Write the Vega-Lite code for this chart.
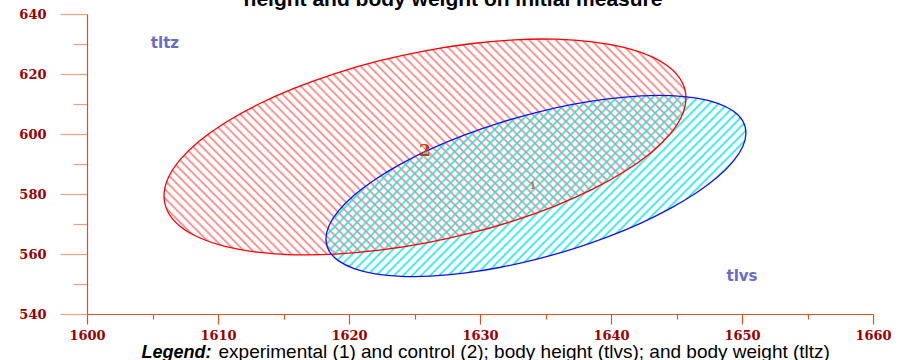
{
"$schema": "https://vega.github.io/schema/vega-lite/v6.json",
"width": 786, "height": 300,
"autosize": {"type": "none"},
"padding": {"left": 87, "top": 14, "right": 27, "bottom": 46},
"background": "white",
"config": {"view": {"stroke": null}},
"title": {"text": "height and body weight on initial measure", "font": "Liberation Sans", "fontSize": 21, "fontWeight": "bold", "color": "#000000", "anchor": "middle", "frame": "group", "baseline": "alphabetic", "offset": -6, "dx": -27, "dy": 13},
"datasets": {
"red": [
{"g":"2","i":0,"x":1645.72,"y":612.00},{"g":"2","i":1,"x":1645.42,"y":617.32},{"g":"2","i":2,"x":1644.52,"y":621.99},{"g":"2","i":3,"x":1643.05,"y":625.85},{"g":"2","i":4,"x":1641.06,"y":628.79},{"g":"2","i":5,"x":1638.60,"y":630.74},{"g":"2","i":6,"x":1635.76,"y":631.61},{"g":"2","i":7,"x":1632.61,"y":631.39},{"g":"2","i":8,"x":1629.26,"y":630.08},{"g":"2","i":9,"x":1625.80,"y":627.74},{"g":"2","i":10,"x":1622.34,"y":624.42},{"g":"2","i":11,"x":1618.99,"y":620.23},{"g":"2","i":12,"x":1615.84,"y":615.27},{"g":"2","i":13,"x":1613.00,"y":609.74},{"g":"2","i":14,"x":1610.54,"y":603.77},{"g":"2","i":15,"x":1608.55,"y":597.57},{"g":"2","i":16,"x":1607.08,"y":591.29},{"g":"2","i":17,"x":1606.18,"y":585.16},{"g":"2","i":18,"x":1605.88,"y":579.34},{"g":"2","i":19,"x":1606.18,"y":574.02},{"g":"2","i":20,"x":1607.08,"y":569.35},{"g":"2","i":21,"x":1608.55,"y":565.49},{"g":"2","i":22,"x":1610.54,"y":562.55},{"g":"2","i":23,"x":1613.00,"y":560.60},{"g":"2","i":24,"x":1615.84,"y":559.73},{"g":"2","i":25,"x":1618.99,"y":559.95},{"g":"2","i":26,"x":1622.34,"y":561.26},{"g":"2","i":27,"x":1625.80,"y":563.60},{"g":"2","i":28,"x":1629.26,"y":566.92},{"g":"2","i":29,"x":1632.61,"y":571.11},{"g":"2","i":30,"x":1635.76,"y":576.07},{"g":"2","i":31,"x":1638.60,"y":581.60},{"g":"2","i":32,"x":1641.06,"y":587.57},{"g":"2","i":33,"x":1643.05,"y":593.77},{"g":"2","i":34,"x":1644.52,"y":600.05},{"g":"2","i":35,"x":1645.42,"y":606.18}
],
"blue": [
{"g":"1","i":0,"x":1650.30,"y":600.34},{"g":"1","i":1,"x":1650.06,"y":604.32},{"g":"1","i":2,"x":1649.33,"y":607.64},{"g":"1","i":3,"x":1648.15,"y":610.21},{"g":"1","i":4,"x":1646.55,"y":611.94},{"g":"1","i":5,"x":1644.57,"y":612.77},{"g":"1","i":6,"x":1642.29,"y":612.70},{"g":"1","i":7,"x":1639.75,"y":611.70},{"g":"1","i":8,"x":1637.05,"y":609.84},{"g":"1","i":9,"x":1634.27,"y":607.14},{"g":"1","i":10,"x":1631.49,"y":603.70},{"g":"1","i":11,"x":1628.79,"y":599.62},{"g":"1","i":12,"x":1626.25,"y":595.02},{"g":"1","i":13,"x":1623.97,"y":590.05},{"g":"1","i":14,"x":1621.99,"y":584.86},{"g":"1","i":15,"x":1620.39,"y":579.61},{"g":"1","i":16,"x":1619.21,"y":574.44},{"g":"1","i":17,"x":1618.48,"y":569.52},{"g":"1","i":18,"x":1618.24,"y":565.00},{"g":"1","i":19,"x":1618.48,"y":561.02},{"g":"1","i":20,"x":1619.21,"y":557.70},{"g":"1","i":21,"x":1620.39,"y":555.13},{"g":"1","i":22,"x":1621.99,"y":553.40},{"g":"1","i":23,"x":1623.97,"y":552.57},{"g":"1","i":24,"x":1626.25,"y":552.64},{"g":"1","i":25,"x":1628.79,"y":553.64},{"g":"1","i":26,"x":1631.49,"y":555.50},{"g":"1","i":27,"x":1634.27,"y":558.20},{"g":"1","i":28,"x":1637.05,"y":561.64},{"g":"1","i":29,"x":1639.75,"y":565.72},{"g":"1","i":30,"x":1642.29,"y":570.32},{"g":"1","i":31,"x":1644.57,"y":575.29},{"g":"1","i":32,"x":1646.55,"y":580.48},{"g":"1","i":33,"x":1648.15,"y":585.73},{"g":"1","i":34,"x":1649.33,"y":590.90},{"g":"1","i":35,"x":1650.06,"y":595.82}
],
"names": [{"x":1605.95,"y":630.3,"label":"tltz"},{"x":1650.0,"y":552.7,"label":"tlvs"}],
"centers": [{"x":1634.05,"y":582.67,"label":"1"},{"x":1625.8,"y":594.33,"label":"2"}]
},
"encoding": {
"x": {"field": "x", "type": "quantitative",
 "scale": {"domain": [1600, 1660], "nice": false, "zero": false},
 "axis": {"values": [1600,1605,1610,1615,1620,1625,1630,1635,1640,1645,1650,1655,1660], "format": "d",
  "grid": false, "domainColor": "#d9531e", "domainWidth": 1.2, "tickColor": "#d9531e", "tickWidth": 1.2,
  "tickSize": {"condition": {"test": "datum.value % 10 === 0", "value": 10}, "value": 5},
  "labelExpr": "datum.value % 10 === 0 ? datum.label : ''",
  "labelFont": "DejaVu Serif", "labelFontWeight": "bold", "labelFontSize": 13, "labelColor": "#990000",
  "labelPadding": 5, "labelFlush": false, "labelOverlap": false,
  "title": "experimental (1) and control (2); body height (tlvs); and body weight (tltz)",
  "titleX": 131, "titleY": 43, "titleAlign": "left", "titleAnchor": "start", "titleBaseline": "alphabetic",
  "titleFont": "Liberation Sans", "titleFontSize": 19, "titleFontWeight": "normal", "titleColor": "#000000"}},
"y": {"field": "y", "type": "quantitative",
 "scale": {"domain": [540, 640], "nice": false, "zero": false},
 "axis": {"values": [540,550,560,570,580,590,600,610,620,630,640], "format": "d",
  "grid": false, "domainColor": "#d9531e", "domainWidth": 1.2, "tickColor": "#f0a080", "tickWidth": 1.2,
  "tickSize": {"condition": {"test": "datum.value % 20 === 0", "value": 27}, "value": 14},
  "labelExpr": "datum.value % 20 === 0 ? datum.label : ''",
  "labelFont": "DejaVu Serif", "labelFontWeight": "bold", "labelFontSize": 13, "labelColor": "#990000",
  "labelPadding": 14, "labelFlush": false, "labelOverlap": false,
  "title": "Legend:", "titleAngle": 0, "titleX": 54, "titleY": 343, "titleAlign": "left", "titleAnchor": "start", "titleBaseline": "alphabetic",
  "titleFont": "Liberation Sans", "titleFontSize": 18, "titleFontWeight": "bold", "titleFontStyle": "italic", "titleColor": "#000000"}}
},
"layer": [
{"data": {"name": "red"},
 "mark": {"type": "line", "interpolate": "cardinal-closed", "strokeOpacity": 0, "fill": {"gradient": "linear", "x1": 0, "y1": 1, "x2": 1.2071, "y2": 0.5015, "stops": [
{"offset":0.003,"color":"#ff7a7a00"},{"offset":0.006,"color":"#ff7a7a"},{"offset":0.009,"color":"#ff7a7a00"},
{"offset":0.015,"color":"#ff7a7a00"},{"offset":0.018,"color":"#ff7a7a"},{"offset":0.021,"color":"#ff7a7a00"},
{"offset":0.027,"color":"#ff7a7a00"},{"offset":0.03,"color":"#ff7a7a"},{"offset":0.033,"color":"#ff7a7a00"},
{"offset":0.039,"color":"#ff7a7a00"},{"offset":0.042,"color":"#ff7a7a"},{"offset":0.045,"color":"#ff7a7a00"},
{"offset":0.051,"color":"#ff7a7a00"},{"offset":0.054,"color":"#ff7a7a"},{"offset":0.057,"color":"#ff7a7a00"},
{"offset":0.063,"color":"#ff7a7a00"},{"offset":0.066,"color":"#ff7a7a"},{"offset":0.069,"color":"#ff7a7a00"},
{"offset":0.075,"color":"#ff7a7a00"},{"offset":0.078,"color":"#ff7a7a"},{"offset":0.081,"color":"#ff7a7a00"},
{"offset":0.087,"color":"#ff7a7a00"},{"offset":0.09,"color":"#ff7a7a"},{"offset":0.093,"color":"#ff7a7a00"},
{"offset":0.099,"color":"#ff7a7a00"},{"offset":0.102,"color":"#ff7a7a"},{"offset":0.105,"color":"#ff7a7a00"},
{"offset":0.111,"color":"#ff7a7a00"},{"offset":0.114,"color":"#ff7a7a"},{"offset":0.117,"color":"#ff7a7a00"},
{"offset":0.123,"color":"#ff7a7a00"},{"offset":0.126,"color":"#ff7a7a"},{"offset":0.129,"color":"#ff7a7a00"},
{"offset":0.135,"color":"#ff7a7a00"},{"offset":0.138,"color":"#ff7a7a"},{"offset":0.141,"color":"#ff7a7a00"},
{"offset":0.147,"color":"#ff7a7a00"},{"offset":0.15,"color":"#ff7a7a"},{"offset":0.153,"color":"#ff7a7a00"},
{"offset":0.159,"color":"#ff7a7a00"},{"offset":0.162,"color":"#ff7a7a"},{"offset":0.165,"color":"#ff7a7a00"},
{"offset":0.171,"color":"#ff7a7a00"},{"offset":0.174,"color":"#ff7a7a"},{"offset":0.177,"color":"#ff7a7a00"},
{"offset":0.183,"color":"#ff7a7a00"},{"offset":0.186,"color":"#ff7a7a"},{"offset":0.189,"color":"#ff7a7a00"},
{"offset":0.195,"color":"#ff7a7a00"},{"offset":0.198,"color":"#ff7a7a"},{"offset":0.201,"color":"#ff7a7a00"},
{"offset":0.207,"color":"#ff7a7a00"},{"offset":0.21,"color":"#ff7a7a"},{"offset":0.213,"color":"#ff7a7a00"},
{"offset":0.219,"color":"#ff7a7a00"},{"offset":0.222,"color":"#ff7a7a"},{"offset":0.225,"color":"#ff7a7a00"},
{"offset":0.231,"color":"#ff7a7a00"},{"offset":0.234,"color":"#ff7a7a"},{"offset":0.237,"color":"#ff7a7a00"},
{"offset":0.243,"color":"#ff7a7a00"},{"offset":0.246,"color":"#ff7a7a"},{"offset":0.249,"color":"#ff7a7a00"},
{"offset":0.255,"color":"#ff7a7a00"},{"offset":0.258,"color":"#ff7a7a"},{"offset":0.261,"color":"#ff7a7a00"},
{"offset":0.267,"color":"#ff7a7a00"},{"offset":0.27,"color":"#ff7a7a"},{"offset":0.273,"color":"#ff7a7a00"},
{"offset":0.279,"color":"#ff7a7a00"},{"offset":0.282,"color":"#ff7a7a"},{"offset":0.285,"color":"#ff7a7a00"},
{"offset":0.291,"color":"#ff7a7a00"},{"offset":0.294,"color":"#ff7a7a"},{"offset":0.297,"color":"#ff7a7a00"},
{"offset":0.303,"color":"#ff7a7a00"},{"offset":0.306,"color":"#ff7a7a"},{"offset":0.309,"color":"#ff7a7a00"},
{"offset":0.315,"color":"#ff7a7a00"},{"offset":0.318,"color":"#ff7a7a"},{"offset":0.321,"color":"#ff7a7a00"},
{"offset":0.327,"color":"#ff7a7a00"},{"offset":0.33,"color":"#ff7a7a"},{"offset":0.333,"color":"#ff7a7a00"},
{"offset":0.339,"color":"#ff7a7a00"},{"offset":0.342,"color":"#ff7a7a"},{"offset":0.345,"color":"#ff7a7a00"},
{"offset":0.351,"color":"#ff7a7a00"},{"offset":0.354,"color":"#ff7a7a"},{"offset":0.357,"color":"#ff7a7a00"},
{"offset":0.363,"color":"#ff7a7a00"},{"offset":0.366,"color":"#ff7a7a"},{"offset":0.369,"color":"#ff7a7a00"},
{"offset":0.375,"color":"#ff7a7a00"},{"offset":0.378,"color":"#ff7a7a"},{"offset":0.381,"color":"#ff7a7a00"},
{"offset":0.387,"color":"#ff7a7a00"},{"offset":0.39,"color":"#ff7a7a"},{"offset":0.393,"color":"#ff7a7a00"},
{"offset":0.399,"color":"#ff7a7a00"},{"offset":0.402,"color":"#ff7a7a"},{"offset":0.405,"color":"#ff7a7a00"},
{"offset":0.411,"color":"#ff7a7a00"},{"offset":0.414,"color":"#ff7a7a"},{"offset":0.417,"color":"#ff7a7a00"},
{"offset":0.423,"color":"#ff7a7a00"},{"offset":0.426,"color":"#ff7a7a"},{"offset":0.429,"color":"#ff7a7a00"},
{"offset":0.435,"color":"#ff7a7a00"},{"offset":0.438,"color":"#ff7a7a"},{"offset":0.441,"color":"#ff7a7a00"},
{"offset":0.447,"color":"#ff7a7a00"},{"offset":0.45,"color":"#ff7a7a"},{"offset":0.453,"color":"#ff7a7a00"},
{"offset":0.459,"color":"#ff7a7a00"},{"offset":0.462,"color":"#ff7a7a"},{"offset":0.465,"color":"#ff7a7a00"},
{"offset":0.471,"color":"#ff7a7a00"},{"offset":0.474,"color":"#ff7a7a"},{"offset":0.477,"color":"#ff7a7a00"},
{"offset":0.483,"color":"#ff7a7a00"},{"offset":0.486,"color":"#ff7a7a"},{"offset":0.489,"color":"#ff7a7a00"},
{"offset":0.495,"color":"#ff7a7a00"},{"offset":0.498,"color":"#ff7a7a"},{"offset":0.501,"color":"#ff7a7a00"},
{"offset":0.507,"color":"#ff7a7a00"},{"offset":0.51,"color":"#ff7a7a"},{"offset":0.513,"color":"#ff7a7a00"},
{"offset":0.519,"color":"#ff7a7a00"},{"offset":0.522,"color":"#ff7a7a"},{"offset":0.525,"color":"#ff7a7a00"},
{"offset":0.531,"color":"#ff7a7a00"},{"offset":0.534,"color":"#ff7a7a"},{"offset":0.537,"color":"#ff7a7a00"},
{"offset":0.543,"color":"#ff7a7a00"},{"offset":0.546,"color":"#ff7a7a"},{"offset":0.549,"color":"#ff7a7a00"},
{"offset":0.555,"color":"#ff7a7a00"},{"offset":0.558,"color":"#ff7a7a"},{"offset":0.561,"color":"#ff7a7a00"},
{"offset":0.567,"color":"#ff7a7a00"},{"offset":0.57,"color":"#ff7a7a"},{"offset":0.573,"color":"#ff7a7a00"},
{"offset":0.579,"color":"#ff7a7a00"},{"offset":0.582,"color":"#ff7a7a"},{"offset":0.585,"color":"#ff7a7a00"},
{"offset":0.591,"color":"#ff7a7a00"},{"offset":0.594,"color":"#ff7a7a"},{"offset":0.597,"color":"#ff7a7a00"},
{"offset":0.603,"color":"#ff7a7a00"},{"offset":0.606,"color":"#ff7a7a"},{"offset":0.609,"color":"#ff7a7a00"},
{"offset":0.615,"color":"#ff7a7a00"},{"offset":0.618,"color":"#ff7a7a"},{"offset":0.621,"color":"#ff7a7a00"},
{"offset":0.627,"color":"#ff7a7a00"},{"offset":0.63,"color":"#ff7a7a"},{"offset":0.633,"color":"#ff7a7a00"},
{"offset":0.639,"color":"#ff7a7a00"},{"offset":0.642,"color":"#ff7a7a"},{"offset":0.645,"color":"#ff7a7a00"},
{"offset":0.651,"color":"#ff7a7a00"},{"offset":0.654,"color":"#ff7a7a"},{"offset":0.657,"color":"#ff7a7a00"},
{"offset":0.663,"color":"#ff7a7a00"},{"offset":0.666,"color":"#ff7a7a"},{"offset":0.669,"color":"#ff7a7a00"},
{"offset":0.675,"color":"#ff7a7a00"},{"offset":0.678,"color":"#ff7a7a"},{"offset":0.681,"color":"#ff7a7a00"},
{"offset":0.687,"color":"#ff7a7a00"},{"offset":0.69,"color":"#ff7a7a"},{"offset":0.693,"color":"#ff7a7a00"},
{"offset":0.699,"color":"#ff7a7a00"},{"offset":0.702,"color":"#ff7a7a"},{"offset":0.705,"color":"#ff7a7a00"},
{"offset":0.711,"color":"#ff7a7a00"},{"offset":0.714,"color":"#ff7a7a"},{"offset":0.717,"color":"#ff7a7a00"},
{"offset":0.723,"color":"#ff7a7a00"},{"offset":0.726,"color":"#ff7a7a"},{"offset":0.729,"color":"#ff7a7a00"},
{"offset":0.735,"color":"#ff7a7a00"},{"offset":0.738,"color":"#ff7a7a"},{"offset":0.741,"color":"#ff7a7a00"},
{"offset":0.747,"color":"#ff7a7a00"},{"offset":0.75,"color":"#ff7a7a"},{"offset":0.753,"color":"#ff7a7a00"},
{"offset":0.759,"color":"#ff7a7a00"},{"offset":0.762,"color":"#ff7a7a"},{"offset":0.765,"color":"#ff7a7a00"},
{"offset":0.771,"color":"#ff7a7a00"},{"offset":0.774,"color":"#ff7a7a"},{"offset":0.777,"color":"#ff7a7a00"},
{"offset":0.783,"color":"#ff7a7a00"},{"offset":0.786,"color":"#ff7a7a"},{"offset":0.789,"color":"#ff7a7a00"},
{"offset":0.795,"color":"#ff7a7a00"},{"offset":0.798,"color":"#ff7a7a"},{"offset":0.801,"color":"#ff7a7a00"},
{"offset":0.807,"color":"#ff7a7a00"},{"offset":0.81,"color":"#ff7a7a"},{"offset":0.813,"color":"#ff7a7a00"},
{"offset":0.819,"color":"#ff7a7a00"},{"offset":0.822,"color":"#ff7a7a"},{"offset":0.825,"color":"#ff7a7a00"},
{"offset":0.831,"color":"#ff7a7a00"},{"offset":0.834,"color":"#ff7a7a"},{"offset":0.837,"color":"#ff7a7a00"},
{"offset":0.843,"color":"#ff7a7a00"},{"offset":0.846,"color":"#ff7a7a"},{"offset":0.849,"color":"#ff7a7a00"},
{"offset":0.855,"color":"#ff7a7a00"},{"offset":0.858,"color":"#ff7a7a"},{"offset":0.861,"color":"#ff7a7a00"},
{"offset":0.867,"color":"#ff7a7a00"},{"offset":0.87,"color":"#ff7a7a"},{"offset":0.873,"color":"#ff7a7a00"},
{"offset":0.879,"color":"#ff7a7a00"},{"offset":0.882,"color":"#ff7a7a"},{"offset":0.885,"color":"#ff7a7a00"},
{"offset":0.891,"color":"#ff7a7a00"},{"offset":0.894,"color":"#ff7a7a"},{"offset":0.897,"color":"#ff7a7a00"},
{"offset":0.903,"color":"#ff7a7a00"},{"offset":0.906,"color":"#ff7a7a"},{"offset":0.909,"color":"#ff7a7a00"},
{"offset":0.915,"color":"#ff7a7a00"},{"offset":0.918,"color":"#ff7a7a"},{"offset":0.921,"color":"#ff7a7a00"},
{"offset":0.927,"color":"#ff7a7a00"},{"offset":0.93,"color":"#ff7a7a"},{"offset":0.933,"color":"#ff7a7a00"},
{"offset":0.939,"color":"#ff7a7a00"},{"offset":0.942,"color":"#ff7a7a"},{"offset":0.945,"color":"#ff7a7a00"},
{"offset":0.951,"color":"#ff7a7a00"},{"offset":0.954,"color":"#ff7a7a"},{"offset":0.957,"color":"#ff7a7a00"},
{"offset":0.963,"color":"#ff7a7a00"},{"offset":0.966,"color":"#ff7a7a"},{"offset":0.969,"color":"#ff7a7a00"},
{"offset":0.975,"color":"#ff7a7a00"},{"offset":0.978,"color":"#ff7a7a"},{"offset":0.981,"color":"#ff7a7a00"},
{"offset":0.987,"color":"#ff7a7a00"},{"offset":0.99,"color":"#ff7a7a"},{"offset":0.993,"color":"#ff7a7a00"}
 ]}},
 "encoding": {"order": {"field": "i", "type": "quantitative"}}},
{"data": {"name": "blue"},
 "mark": {"type": "line", "interpolate": "cardinal-closed", "strokeOpacity": 0, "fill": {"gradient": "linear", "x1": 0, "y1": 0, "x2": 1.2069, "y2": 0.519, "stops": [
{"offset":0.00375,"color":"#10e8e800"},{"offset":0.0075,"color":"#10e8e8"},{"offset":0.01125,"color":"#10e8e800"},
{"offset":0.01875,"color":"#10e8e800"},{"offset":0.0225,"color":"#10e8e8"},{"offset":0.02625,"color":"#10e8e800"},
{"offset":0.03375,"color":"#10e8e800"},{"offset":0.0375,"color":"#10e8e8"},{"offset":0.04125,"color":"#10e8e800"},
{"offset":0.04875,"color":"#10e8e800"},{"offset":0.0525,"color":"#10e8e8"},{"offset":0.05625,"color":"#10e8e800"},
{"offset":0.06375,"color":"#10e8e800"},{"offset":0.0675,"color":"#10e8e8"},{"offset":0.07125,"color":"#10e8e800"},
{"offset":0.07875,"color":"#10e8e800"},{"offset":0.0825,"color":"#10e8e8"},{"offset":0.08625,"color":"#10e8e800"},
{"offset":0.09375,"color":"#10e8e800"},{"offset":0.0975,"color":"#10e8e8"},{"offset":0.10125,"color":"#10e8e800"},
{"offset":0.10875,"color":"#10e8e800"},{"offset":0.1125,"color":"#10e8e8"},{"offset":0.11625,"color":"#10e8e800"},
{"offset":0.12375,"color":"#10e8e800"},{"offset":0.1275,"color":"#10e8e8"},{"offset":0.13125,"color":"#10e8e800"},
{"offset":0.13875,"color":"#10e8e800"},{"offset":0.1425,"color":"#10e8e8"},{"offset":0.14625,"color":"#10e8e800"},
{"offset":0.15375,"color":"#10e8e800"},{"offset":0.1575,"color":"#10e8e8"},{"offset":0.16125,"color":"#10e8e800"},
{"offset":0.16875,"color":"#10e8e800"},{"offset":0.1725,"color":"#10e8e8"},{"offset":0.17625,"color":"#10e8e800"},
{"offset":0.18375,"color":"#10e8e800"},{"offset":0.1875,"color":"#10e8e8"},{"offset":0.19125,"color":"#10e8e800"},
{"offset":0.19875,"color":"#10e8e800"},{"offset":0.2025,"color":"#10e8e8"},{"offset":0.20625,"color":"#10e8e800"},
{"offset":0.21375,"color":"#10e8e800"},{"offset":0.2175,"color":"#10e8e8"},{"offset":0.22125,"color":"#10e8e800"},
{"offset":0.22875,"color":"#10e8e800"},{"offset":0.2325,"color":"#10e8e8"},{"offset":0.23625,"color":"#10e8e800"},
{"offset":0.24375,"color":"#10e8e800"},{"offset":0.2475,"color":"#10e8e8"},{"offset":0.25125,"color":"#10e8e800"},
{"offset":0.25875,"color":"#10e8e800"},{"offset":0.2625,"color":"#10e8e8"},{"offset":0.26625,"color":"#10e8e800"},
{"offset":0.27375,"color":"#10e8e800"},{"offset":0.2775,"color":"#10e8e8"},{"offset":0.28125,"color":"#10e8e800"},
{"offset":0.28875,"color":"#10e8e800"},{"offset":0.2925,"color":"#10e8e8"},{"offset":0.29625,"color":"#10e8e800"},
{"offset":0.30375,"color":"#10e8e800"},{"offset":0.3075,"color":"#10e8e8"},{"offset":0.31125,"color":"#10e8e800"},
{"offset":0.31875,"color":"#10e8e800"},{"offset":0.3225,"color":"#10e8e8"},{"offset":0.32625,"color":"#10e8e800"},
{"offset":0.33375,"color":"#10e8e800"},{"offset":0.3375,"color":"#10e8e8"},{"offset":0.34125,"color":"#10e8e800"},
{"offset":0.34875,"color":"#10e8e800"},{"offset":0.3525,"color":"#10e8e8"},{"offset":0.35625,"color":"#10e8e800"},
{"offset":0.36375,"color":"#10e8e800"},{"offset":0.3675,"color":"#10e8e8"},{"offset":0.37125,"color":"#10e8e800"},
{"offset":0.37875,"color":"#10e8e800"},{"offset":0.3825,"color":"#10e8e8"},{"offset":0.38625,"color":"#10e8e800"},
{"offset":0.39375,"color":"#10e8e800"},{"offset":0.3975,"color":"#10e8e8"},{"offset":0.40125,"color":"#10e8e800"},
{"offset":0.40875,"color":"#10e8e800"},{"offset":0.4125,"color":"#10e8e8"},{"offset":0.41625,"color":"#10e8e800"},
{"offset":0.42375,"color":"#10e8e800"},{"offset":0.4275,"color":"#10e8e8"},{"offset":0.43125,"color":"#10e8e800"},
{"offset":0.43875,"color":"#10e8e800"},{"offset":0.4425,"color":"#10e8e8"},{"offset":0.44625,"color":"#10e8e800"},
{"offset":0.45375,"color":"#10e8e800"},{"offset":0.4575,"color":"#10e8e8"},{"offset":0.46125,"color":"#10e8e800"},
{"offset":0.46875,"color":"#10e8e800"},{"offset":0.4725,"color":"#10e8e8"},{"offset":0.47625,"color":"#10e8e800"},
{"offset":0.48375,"color":"#10e8e800"},{"offset":0.4875,"color":"#10e8e8"},{"offset":0.49125,"color":"#10e8e800"},
{"offset":0.49875,"color":"#10e8e800"},{"offset":0.5025,"color":"#10e8e8"},{"offset":0.50625,"color":"#10e8e800"},
{"offset":0.51375,"color":"#10e8e800"},{"offset":0.5175,"color":"#10e8e8"},{"offset":0.52125,"color":"#10e8e800"},
{"offset":0.52875,"color":"#10e8e800"},{"offset":0.5325,"color":"#10e8e8"},{"offset":0.53625,"color":"#10e8e800"},
{"offset":0.54375,"color":"#10e8e800"},{"offset":0.5475,"color":"#10e8e8"},{"offset":0.55125,"color":"#10e8e800"},
{"offset":0.55875,"color":"#10e8e800"},{"offset":0.5625,"color":"#10e8e8"},{"offset":0.56625,"color":"#10e8e800"},
{"offset":0.57375,"color":"#10e8e800"},{"offset":0.5775,"color":"#10e8e8"},{"offset":0.58125,"color":"#10e8e800"},
{"offset":0.58875,"color":"#10e8e800"},{"offset":0.5925,"color":"#10e8e8"},{"offset":0.59625,"color":"#10e8e800"},
{"offset":0.60375,"color":"#10e8e800"},{"offset":0.6075,"color":"#10e8e8"},{"offset":0.61125,"color":"#10e8e800"},
{"offset":0.61875,"color":"#10e8e800"},{"offset":0.6225,"color":"#10e8e8"},{"offset":0.62625,"color":"#10e8e800"},
{"offset":0.63375,"color":"#10e8e800"},{"offset":0.6375,"color":"#10e8e8"},{"offset":0.64125,"color":"#10e8e800"},
{"offset":0.64875,"color":"#10e8e800"},{"offset":0.6525,"color":"#10e8e8"},{"offset":0.65625,"color":"#10e8e800"},
{"offset":0.66375,"color":"#10e8e800"},{"offset":0.6675,"color":"#10e8e8"},{"offset":0.67125,"color":"#10e8e800"},
{"offset":0.67875,"color":"#10e8e800"},{"offset":0.6825,"color":"#10e8e8"},{"offset":0.68625,"color":"#10e8e800"},
{"offset":0.69375,"color":"#10e8e800"},{"offset":0.6975,"color":"#10e8e8"},{"offset":0.70125,"color":"#10e8e800"},
{"offset":0.70875,"color":"#10e8e800"},{"offset":0.7125,"color":"#10e8e8"},{"offset":0.71625,"color":"#10e8e800"},
{"offset":0.72375,"color":"#10e8e800"},{"offset":0.7275,"color":"#10e8e8"},{"offset":0.73125,"color":"#10e8e800"},
{"offset":0.73875,"color":"#10e8e800"},{"offset":0.7425,"color":"#10e8e8"},{"offset":0.74625,"color":"#10e8e800"},
{"offset":0.75375,"color":"#10e8e800"},{"offset":0.7575,"color":"#10e8e8"},{"offset":0.76125,"color":"#10e8e800"},
{"offset":0.76875,"color":"#10e8e800"},{"offset":0.7725,"color":"#10e8e8"},{"offset":0.77625,"color":"#10e8e800"},
{"offset":0.78375,"color":"#10e8e800"},{"offset":0.7875,"color":"#10e8e8"},{"offset":0.79125,"color":"#10e8e800"},
{"offset":0.79875,"color":"#10e8e800"},{"offset":0.8025,"color":"#10e8e8"},{"offset":0.80625,"color":"#10e8e800"},
{"offset":0.81375,"color":"#10e8e800"},{"offset":0.8175,"color":"#10e8e8"},{"offset":0.82125,"color":"#10e8e800"},
{"offset":0.82875,"color":"#10e8e800"},{"offset":0.8325,"color":"#10e8e8"},{"offset":0.83625,"color":"#10e8e800"},
{"offset":0.84375,"color":"#10e8e800"},{"offset":0.8475,"color":"#10e8e8"},{"offset":0.85125,"color":"#10e8e800"},
{"offset":0.85875,"color":"#10e8e800"},{"offset":0.8625,"color":"#10e8e8"},{"offset":0.86625,"color":"#10e8e800"},
{"offset":0.87375,"color":"#10e8e800"},{"offset":0.8775,"color":"#10e8e8"},{"offset":0.88125,"color":"#10e8e800"},
{"offset":0.88875,"color":"#10e8e800"},{"offset":0.8925,"color":"#10e8e8"},{"offset":0.89625,"color":"#10e8e800"},
{"offset":0.90375,"color":"#10e8e800"},{"offset":0.9075,"color":"#10e8e8"},{"offset":0.91125,"color":"#10e8e800"},
{"offset":0.91875,"color":"#10e8e800"},{"offset":0.9225,"color":"#10e8e8"},{"offset":0.92625,"color":"#10e8e800"},
{"offset":0.93375,"color":"#10e8e800"},{"offset":0.9375,"color":"#10e8e8"},{"offset":0.94125,"color":"#10e8e800"},
{"offset":0.94875,"color":"#10e8e800"},{"offset":0.9525,"color":"#10e8e8"},{"offset":0.95625,"color":"#10e8e800"},
{"offset":0.96375,"color":"#10e8e800"},{"offset":0.9675,"color":"#10e8e8"},{"offset":0.97125,"color":"#10e8e800"},
{"offset":0.97875,"color":"#10e8e800"},{"offset":0.9825,"color":"#10e8e8"},{"offset":0.98625,"color":"#10e8e800"}
 ]}},
 "encoding": {"order": {"field": "i", "type": "quantitative"}}},
{"data": {"name": "red"},
 "mark": {"type": "line", "interpolate": "cardinal-closed", "color": "#ff0000", "strokeWidth": 1.3},
 "encoding": {"order": {"field": "i", "type": "quantitative"}}},
{"data": {"name": "blue"},
 "mark": {"type": "line", "interpolate": "cardinal-closed", "color": "#1010ff", "strokeWidth": 1.3},
 "encoding": {"order": {"field": "i", "type": "quantitative"}}},
{"data": {"name": "centers"},
 "transform": [{"filter": "datum.label === '2'"}],
 "mark": {"type": "text", "font": "DejaVu Serif", "fontWeight": "bold", "fontSize": 17, "color": "#c0400f", "align": "center", "baseline": "middle"},
 "encoding": {"text": {"field": "label", "type": "nominal"}}},
{"data": {"name": "centers"},
 "transform": [{"filter": "datum.label === '1'"}],
 "mark": {"type": "text", "font": "DejaVu Serif", "fontWeight": "normal", "fontSize": 10, "color": "#b0400f", "align": "center", "baseline": "middle"},
 "encoding": {"text": {"field": "label", "type": "nominal"}}},
{"data": {"name": "names"},
 "mark": {"type": "text", "font": "DejaVu Sans", "fontWeight": "bold", "fontSize": 15, "color": "#6a6acd", "align": "center", "baseline": "middle"},
 "encoding": {"text": {"field": "label", "type": "nominal"}}}
]
}
